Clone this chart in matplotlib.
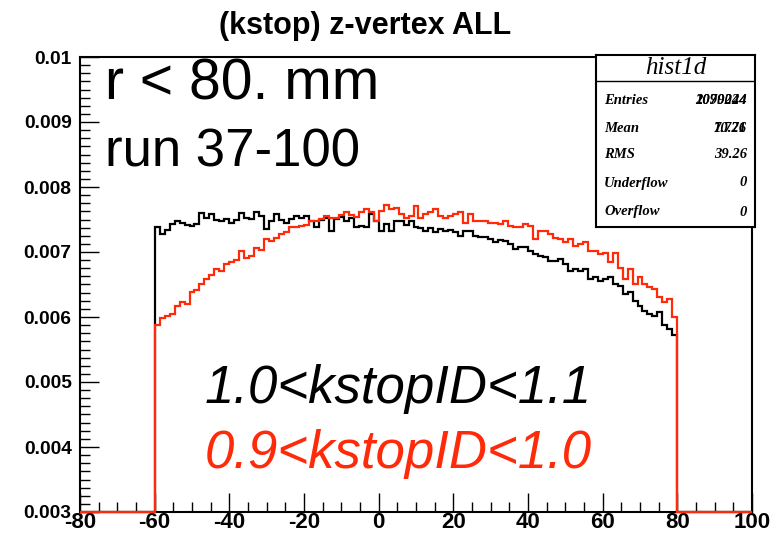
import numpy as np
import matplotlib
matplotlib.use('Agg')
import matplotlib.pyplot as plt
from matplotlib.ticker import FixedLocator, FixedFormatter, MultipleLocator

plt.rcParams['font.family'] = ['Liberation Sans', 'DejaVu Sans']

# z-vertex histogram, 4/3 mm bins, plotted range -80..100, data only in -60..80
x_lo, x_hi, n_bins = -80, 100, 135
first_bin, last_bin = 15, 120      # bins with entries (-60 .. 80)

# bin contents (x 1e-5)
black_vals = [
    739, 728, 734, 743, 748, 744, 741, 740, 743, 760, 753, 759, 749, 747, 750, 745,
    749, 760, 753, 750, 762, 755, 735, 747, 758, 749,
    745, 750, 756, 752, 756, 748, 739, 749, 752, 732, 750, 754, 748, 752, 739, 740,
    739, 758, 747, 732, 743, 732, 748, 748, 742, 748, 738,
    737, 732, 737, 730, 735, 732, 734, 730, 725, 732, 732, 725, 723, 723, 720, 715,
    718, 717, 712, 704, 708, 707, 702, 697, 694, 692, 686,
    686, 689, 681, 671, 674, 671, 674, 658, 661, 656, 658, 661, 651, 648, 635, 638,
    625, 617, 610, 605, 602, 607, 587, 582, 572,
]
red_vals = [
    587, 599, 602, 604, 617, 623, 620, 638, 641, 650, 658, 664, 674, 671, 681, 684,
    687, 702, 691, 694, 706, 703, 720, 717, 721, 727,
    730, 739, 738, 740, 742, 748, 747, 750, 756, 752, 753, 757, 762, 757, 754, 761,
    766, 761, 747, 763, 772, 766, 768, 758, 753, 756, 771,
    753, 758, 761, 766, 755, 753, 755, 758, 761, 745, 758, 748, 747, 748, 745, 744,
    743, 748, 740, 739, 738, 743, 740, 720, 733, 733, 727,
    722, 720, 715, 720, 709, 713, 715, 702, 701, 697, 699, 684, 699, 676, 658, 674,
    651, 661, 651, 646, 643, 630, 623, 628, 600,
]

y_lo, y_hi = 0.003, 0.01
yticks = [0.003, 0.004, 0.005, 0.006, 0.007, 0.008, 0.009, 0.01]
ytick_labels = ['0.003', '0.004', '0.005', '0.006', '0.007', '0.008', '0.009', '0.01']
xticks = [-80, -60, -40, -20, 0, 20, 40, 60, 80, 100]
xtick_labels = ['-80', '-60', '-40', '-20', '0', '20', '40', '60', '80', '100']

stat_names = ['Entries', 'Mean', 'RMS', 'Underflow', 'Overflow']
stat_vals_a = ['1090244', '7.726', '39.26', '0', '0']
stat_vals_b = ['2079024', '10.71', '39.26', '0', '0']

red = '#ff2a0a'


def full_hist(vals):
    h = np.zeros(n_bins)
    h[first_bin:last_bin] = np.array(vals) * 1e-5
    # ROOT draws empty bins on the frame bottom
    return np.maximum(h, y_lo)


edges = np.linspace(x_lo, x_hi, n_bins + 1)

fig = plt.figure(figsize=(7.8, 5.34), dpi=100)
ax = fig.add_axes([80 / 780, 1 - 512 / 534, 672 / 780, 455 / 534])

ax.stairs(full_hist(black_vals), edges, baseline=None, color='black', lw=1.6,
          clip_on=False, zorder=3)
ax.stairs(full_hist(red_vals), edges, baseline=None, color=red, lw=1.6,
          clip_on=False, zorder=4)

ax.set_xlim(x_lo, x_hi)
ax.set_ylim(y_lo, y_hi)

ax.yaxis.set_major_locator(FixedLocator(yticks))
ax.yaxis.set_major_formatter(FixedFormatter(ytick_labels))
ax.yaxis.set_minor_locator(MultipleLocator(0.000125))
ax.xaxis.set_major_locator(FixedLocator(xticks))
ax.xaxis.set_major_formatter(FixedFormatter(xtick_labels))
ax.xaxis.set_minor_locator(MultipleLocator(5))

ax.tick_params(which='both', direction='in', top=False, right=False, width=1.0)
ax.tick_params(which='major', length=14)
ax.tick_params(which='minor', length=7)
ax.tick_params(axis='y', pad=6)
ax.tick_params(axis='x', pad=0)
for lab in ax.get_yticklabels():
    lab.set_fontweight('bold')
    lab.set_fontsize(13.8)
for lab in ax.get_xticklabels():
    lab.set_fontweight('bold')
    lab.set_fontsize(16)
for sp in ax.spines.values():
    sp.set_linewidth(1.5)

fig.text(0.468, 1 - 26 / 534, '(kstop) z-vertex ALL', ha='center', va='center',
         fontsize=22, fontweight='bold')

ax.text(0.037, 0.94, 'r < 80. mm', transform=ax.transAxes, fontsize=41,
        va='center', ha='left')
ax.text(0.037, 0.79, 'run 37-100', transform=ax.transAxes, fontsize=38,
        va='center', ha='left')
ax.text(0.185, 0.27, '1.0<kstopID<1.1', transform=ax.transAxes, fontsize=38,
        style='italic', va='center', ha='left', color='black')
ax.text(0.185, 0.127, '0.9<kstopID<1.0', transform=ax.transAxes, fontsize=38,
        style='italic', va='center', ha='left', color=red)

# stat box
sb = fig.add_axes([596 / 780, 1 - 227 / 534, 159 / 780, 172 / 534], zorder=10)
sb.set_xticks([])
sb.set_yticks([])
sb.set_xlim(0, 159)
sb.set_ylim(172, 0)
for sp in sb.spines.values():
    sp.set_linewidth(1.5)
sb.axhline(26, color='black', lw=1.0)
sb.text(79.5, 13, 'hist1d', ha='center', va='center', fontsize=18,
        family='Liberation Serif', style='italic')
row_y = [46, 73, 100, 128, 157]
for name, va_, vb_, yy in zip(stat_names, stat_vals_a, stat_vals_b, row_y):
    sb.text(8, yy, name, ha='left', va='center', fontsize=10.5,
            family='Liberation Serif', style='italic', fontweight='bold')
    sb.text(151, yy, va_, ha='right', va='center', fontsize=10.5,
            family='Liberation Serif', style='italic', fontweight='bold')
    if vb_ != va_:
        sb.text(151, yy, vb_, ha='right', va='center', fontsize=10.5,
                family='Liberation Serif', style='italic', fontweight='bold')

fig.savefig('out.png', dpi=100)
